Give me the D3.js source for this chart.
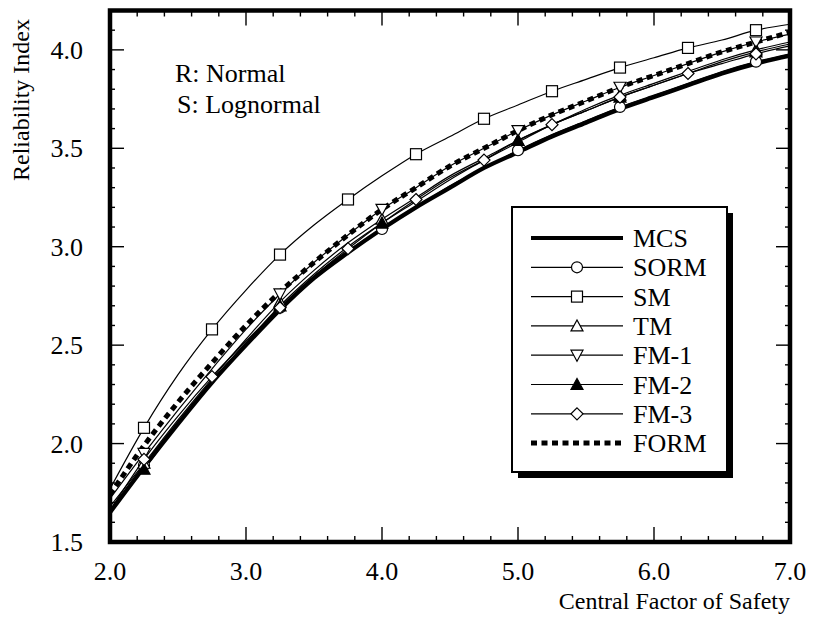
<!DOCTYPE html>
<html>
<head>
<meta charset="utf-8">
<script src="https://cdn.jsdelivr.net/npm/d3@7"></script>
<style>
  body { margin: 0; background: #fff; }
  svg text { font-family: "Liberation Serif", "Times New Roman", serif; fill: #000; }
</style>
</head>
<body>
<div id="chart"></div>
<script>
// central factor of safety (x grid)
var cfs = [2.0, 2.25, 2.5, 2.75, 3.0, 3.25, 3.5, 3.75, 4.0, 4.25, 4.5,
           4.75, 5.0, 5.25, 5.5, 5.75, 6.0, 6.25, 6.5, 6.75, 7.0];

// reliability index per method
var mcs  = [1.65, 1.88, 2.10, 2.31, 2.50, 2.68, 2.84, 2.97, 3.09, 3.20, 3.30,
            3.40, 3.48, 3.56, 3.63, 3.70, 3.76, 3.82, 3.88, 3.93, 3.97];
var sorm = [1.66, 1.89, 2.11, 2.32, 2.51, 2.69, 2.85, 2.98, 3.09, 3.20, 3.31,
            3.40, 3.49, 3.57, 3.64, 3.71, 3.77, 3.83, 3.89, 3.94, 3.98];
var sm   = [1.77, 2.08, 2.35, 2.58, 2.78, 2.96, 3.11, 3.24, 3.36, 3.47, 3.56,
            3.65, 3.72, 3.79, 3.85, 3.91, 3.96, 4.01, 4.05, 4.10, 4.13];
var tm   = [1.68, 1.90, 2.12, 2.33, 2.53, 2.72, 2.88, 3.02, 3.14, 3.25, 3.36,
            3.45, 3.54, 3.62, 3.70, 3.77, 3.83, 3.89, 3.95, 4.00, 4.04];
var fm1  = [1.72, 1.95, 2.17, 2.38, 2.58, 2.76, 2.92, 3.06, 3.19, 3.30, 3.41,
            3.50, 3.59, 3.67, 3.74, 3.81, 3.87, 3.93, 3.99, 4.04, 4.08];
var fm2  = [1.66, 1.87, 2.10, 2.31, 2.51, 2.70, 2.86, 3.00, 3.12, 3.23, 3.34,
            3.44, 3.54, 3.62, 3.69, 3.76, 3.82, 3.88, 3.94, 3.99, 4.03];
var fm3  = [1.66, 1.92, 2.14, 2.34, 2.52, 2.69, 2.85, 2.99, 3.12, 3.24, 3.35,
            3.44, 3.53, 3.62, 3.69, 3.76, 3.82, 3.88, 3.93, 3.98, 4.02];
var form = [1.74, 1.99, 2.21, 2.41, 2.60, 2.77, 2.92, 3.06, 3.19, 3.30, 3.41,
            3.50, 3.59, 3.67, 3.74, 3.81, 3.87, 3.93, 3.99, 4.04, 4.09];

// where symbols sit
var halfSteps = [2.25, 2.75, 3.25, 3.75, 4.25, 4.75, 5.25, 5.75, 6.25, 6.75];
var samplePts = [2.25, 3.25, 4.0, 5.0, 5.75, 6.75];

var xTicks = [2.0, 3.0, 4.0, 5.0, 6.0, 7.0];
var yTicks = [1.5, 2.0, 2.5, 3.0, 3.5, 4.0];

var series = [
  {name: "MCS",  values: mcs,  kind: "thick"},
  {name: "SORM", values: sorm, sym: "circle",   at: samplePts},
  {name: "SM",   values: sm,   sym: "square",   at: halfSteps},
  {name: "TM",   values: tm,   sym: "up",       at: samplePts},
  {name: "FM-1", values: fm1,  sym: "down",     at: samplePts},
  {name: "FM-2", values: fm2,  sym: "upFilled", at: samplePts},
  {name: "FM-3", values: fm3,  sym: "diamond",  at: halfSteps},
  {name: "FORM", values: form, kind: "dash"}
];

var width = 813, height = 619;
var x = d3.scaleLinear().domain([2, 7]).range([110, 790]);
var y = d3.scaleLinear().domain([1.5, 4.2]).range([542, 10.5]);

var svg = d3.select("#chart").append("svg")
    .attr("width", width)
    .attr("height", height);

// ticks, inward on all four sides
var minorX = d3.range(2, 7.001, 0.2), minorY = d3.range(1.5, 4.2001, 0.1);
var tk = svg.append("g").attr("stroke", "#000").attr("stroke-width", 1.4);
minorX.forEach(function(v) {
  var major = Math.abs(v - Math.round(v)) < 1e-6, L = major ? 15 : 6;
  tk.append("line").attr("x1", x(v)).attr("x2", x(v)).attr("y1", 542).attr("y2", 542 - L);
  tk.append("line").attr("x1", x(v)).attr("x2", x(v)).attr("y1", 10.5).attr("y2", 10.5 + L);
});
minorY.forEach(function(v) {
  var major = Math.abs(v * 2 - Math.round(v * 2)) < 1e-6, L = major ? 14 : 5;
  tk.append("line").attr("y1", y(v)).attr("y2", y(v)).attr("x1", 110).attr("x2", 110 + L);
  tk.append("line").attr("y1", y(v)).attr("y2", y(v)).attr("x1", 790).attr("x2", 790 - L);
});

// tick labels
svg.append("g").selectAll("text").data(xTicks).join("text")
    .attr("x", d => x(d)).attr("y", 580)
    .attr("text-anchor", "middle")
    .style("font-size", "26px")
    .text(d => d.toFixed(1));
svg.append("g").selectAll("text").data(yTicks).join("text")
    .attr("x", 83).attr("y", d => y(d) + 9)
    .attr("text-anchor", "end")
    .style("font-size", "26px")
    .text(d => d.toFixed(1));

// axis titles
svg.append("text")
    .attr("x", 790).attr("y", 609)
    .attr("text-anchor", "end")
    .style("font-size", "24px")
    .text("Central Factor of Safety");
svg.append("text")
    .attr("transform", "translate(29,100) rotate(-90)")
    .attr("text-anchor", "middle")
    .style("font-size", "24px")
    .text("Reliability Index");

svg.append("text").attr("x", 175).attr("y", 82).style("font-size", "26px").text("R: Normal");
svg.append("text").attr("x", 177).attr("y", 113).style("font-size", "26px").text("S: Lognormal");

// curves
var line = d3.line()
    .x((d, i) => x(cfs[i]))
    .y(d => y(d))
    .curve(d3.curveMonotoneX);

var plot = svg.append("g");
function styleLine(sel, s) {
  if (s.kind === "thick") sel.attr("stroke-width", 4.2);
  else if (s.kind === "dash") sel.attr("stroke-width", 5).attr("stroke-dasharray", "6,4.5");
  else sel.attr("stroke-width", 1.2);
  return sel;
}
series.filter(s => !s.kind).concat(series.filter(s => s.kind)).forEach(function(s) {
  styleLine(plot.append("path")
      .datum(s.values)
      .attr("fill", "none")
      .attr("stroke", "#000")
      .attr("d", line), s);
});

// symbols
function symbol(g, type, cx, cy) {
  var el;
  if (type === "circle") {
    el = g.append("circle").attr("cx", cx).attr("cy", cy).attr("r", 5.5);
  } else if (type === "square") {
    el = g.append("rect").attr("x", cx - 5.5).attr("y", cy - 5.5).attr("width", 11).attr("height", 11);
  } else if (type === "diamond") {
    el = g.append("path").attr("d", `M${cx},${cy - 6}L${cx + 6},${cy}L${cx},${cy + 6}L${cx - 6},${cy}Z`);
  } else if (type === "down") {
    el = g.append("path").attr("d", `M${cx - 6},${cy - 5}L${cx + 6},${cy - 5}L${cx},${cy + 6}Z`);
  } else {
    el = g.append("path").attr("d", `M${cx - 6},${cy + 5}L${cx + 6},${cy + 5}L${cx},${cy - 6}Z`);
  }
  el.attr("fill", type === "upFilled" ? "#000" : "#fff")
    .attr("stroke", "#000").attr("stroke-width", 1.2);
}
var marks = svg.append("g");
series.filter(s => s.sym).forEach(function(s) {
  s.at.forEach(function(v) {
    var i = cfs.indexOf(v);
    symbol(marks, s.sym, x(v), y(s.values[i]));
  });
});

// frame
svg.append("rect")
    .attr("x", 110).attr("y", 10.5)
    .attr("width", 680).attr("height", 531.5)
    .attr("fill", "none").attr("stroke", "#000").attr("stroke-width", 4.5);

// legend with drop shadow
var lg = svg.append("g");
lg.append("rect").attr("x", 518).attr("y", 213).attr("width", 215).attr("height", 265).attr("fill", "#000");
lg.append("rect").attr("x", 512).attr("y", 207).attr("width", 215).attr("height", 265)
    .attr("fill", "#fff").attr("stroke", "#000").attr("stroke-width", 2);
series.forEach(function(s, k) {
  var ry = 238 + k * 29.3;
  styleLine(lg.append("line")
      .attr("x1", 531).attr("x2", 623).attr("y1", ry).attr("y2", ry)
      .attr("stroke", "#000"), s);
  if (s.sym) symbol(lg, s.sym, 577, ry);
  lg.append("text").attr("x", 633).attr("y", ry + 9)
      .style("font-size", "26px").text(s.name);
});
</script>
</body>
</html>
